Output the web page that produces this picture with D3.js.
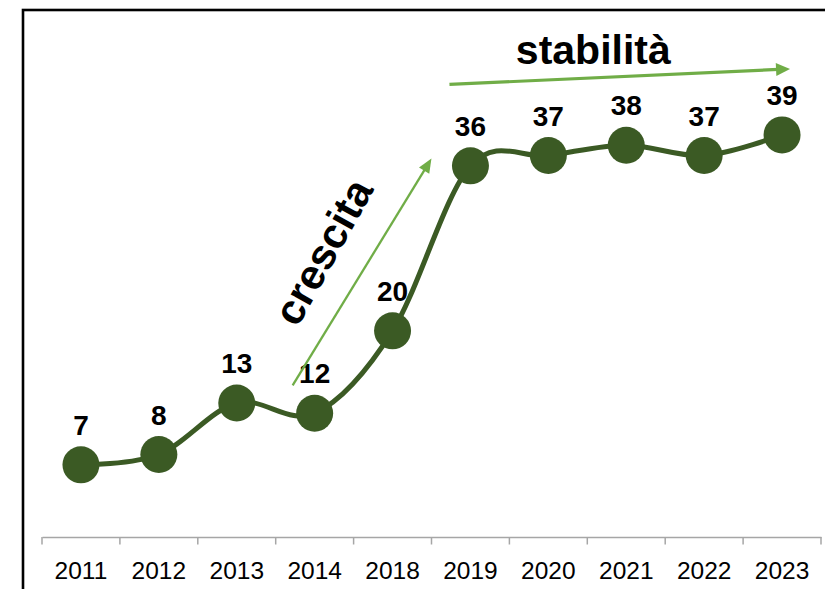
<!DOCTYPE html>
<html><head><meta charset="utf-8">
<script src="https://cdn.jsdelivr.net/npm/d3@7"></script>
<style>body{margin:0;background:#fff}svg{display:block}</style>
</head><body><svg id="c" width="825" height="589"></svg>
<script>
const years = ["2011","2012","2013","2014","2018","2019","2020","2021","2022","2023"];
const values = [7, 8, 13, 12, 20, 36, 37, 38, 37, 39];
const yDomain = [0, 50];
// annotation arrows anchored to category centres / values (start -> end)
const arrowCrescita = {from: {cat: "2014", dx: -22, v: 14.7}, to: {cat: "2019", dx: -39, v: 36.7}, label: "crescita"};
const arrowStabilita = {from: {cat: "2019", dx: -21, v: 43.9}, to: {cat: "2023", dx: 8, v: 45.4}, label: "stabilità"};

const svg = d3.select("#c");
const font = "'Liberation Sans', Arial, sans-serif";
const lineColor = "#3b5a24";
const arrowColor = "#70ad47";

const x = d3.scaleBand().domain(years).range([42, 821]).paddingInner(0).paddingOuter(0);
const cx = d => x(d) + x.bandwidth() / 2;
const y = d3.scaleLinear().domain(yDomain).range([537, 21.5]);

// outer frame
svg.append("rect").attr("x", 23).attr("y", 10).attr("width", 1000).attr("height", 1000)
  .attr("fill", "none").attr("stroke", "#000").attr("stroke-width", 2.6);

// x axis
const axisG = svg.append("g").attr("transform", `translate(0,${y(0)})`);
axisG.call(d3.axisBottom(x).tickSize(0).tickSizeOuter(0).tickPadding(0));
axisG.select(".domain").attr("stroke", "#a6a6a6").attr("stroke-width", 1.5);
axisG.selectAll(".tick text").attr("font-family", font).attr("font-size", 24.5).attr("fill", "#000")
  .attr("dy", null).attr("y", 41.5);
const bounds = years.map(d => x(d)).concat([x.range()[1]]);
axisG.selectAll("line.bt").data(bounds).enter().append("line").attr("class", "bt")
  .attr("x1", d => d).attr("x2", d => d).attr("y1", 0).attr("y2", 7.5)
  .attr("stroke", "#a6a6a6").attr("stroke-width", 1.5);

// line
const pts = years.map((d, i) => [cx(d), y(values[i])]);
svg.append("path").attr("d", d3.line().curve(d3.curveCatmullRom.alpha(0))(pts))
  .attr("fill", "none").attr("stroke", lineColor).attr("stroke-width", 5);

// markers
svg.selectAll("circle.m").data(years).enter().append("circle").attr("class", "m")
  .attr("cx", d => cx(d)).attr("cy", (d, i) => y(values[i])).attr("r", 18.5)
  .attr("fill", lineColor);

// data labels
svg.selectAll("text.lbl").data(years).enter().append("text").attr("class", "lbl")
  .attr("x", d => cx(d)).attr("y", (d, i) => y(values[i]) - 30)
  .attr("text-anchor", "middle").attr("font-family", font).attr("font-weight", "bold")
  .attr("font-size", 28).attr("fill", "#000").text((d, i) => values[i]);

// arrows
function drawArrow(a, width, head) {
  const x0 = cx(a.from.cat) + a.from.dx, y0 = y(a.from.v);
  const x1 = cx(a.to.cat) + a.to.dx, y1 = y(a.to.v);
  const ang = Math.atan2(y1 - y0, x1 - x0);
  const L = head.len, Wd = head.w / 2;
  const bx = x1 - L * Math.cos(ang), by = y1 - L * Math.sin(ang);
  svg.append("line").attr("x1", x0).attr("y1", y0).attr("x2", bx + 2 * Math.cos(ang)).attr("y2", by + 2 * Math.sin(ang))
    .attr("stroke", arrowColor).attr("stroke-width", width);
  const p = [[x1, y1],
    [bx + Wd * Math.sin(ang), by - Wd * Math.cos(ang)],
    [bx - Wd * Math.sin(ang), by + Wd * Math.cos(ang)]];
  svg.append("polygon").attr("points", p.map(q => q.join(",")).join(" ")).attr("fill", arrowColor);
}
drawArrow(arrowStabilita, 3.2, {len: 14, w: 13});
drawArrow(arrowCrescita, 2.3, {len: 14, w: 12});

// annotation texts
svg.append("text").attr("x", (x("2020") + x("2022")) / 2 + 6).attr("y", 64)
  .attr("text-anchor", "middle").attr("font-family", font).attr("font-weight", "bold")
  .attr("font-size", 41).attr("fill", "#000").text(arrowStabilita.label);
svg.append("text")
  .attr("transform", `translate(${cx("2014") + 8},${y(27.7)}) rotate(-61)`)
  .attr("text-anchor", "middle").attr("dy", "0.36em").attr("font-family", font).attr("font-weight", "bold")
  .attr("font-size", 42).attr("fill", "#000").text(arrowCrescita.label);
</script></body></html>
